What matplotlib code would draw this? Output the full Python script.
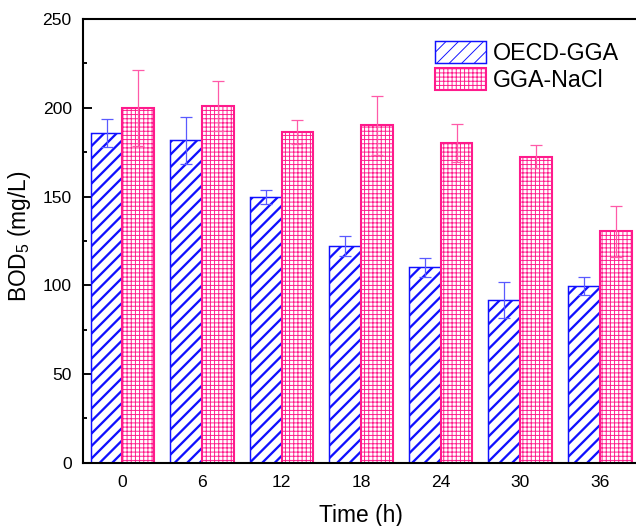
import matplotlib
matplotlib.use("Agg")
import matplotlib.pyplot as plt
import numpy as np

# ---- data ----
time_h = ['0', '6', '12', '18', '24', '30', '36']
oecd_gga = [185.6, 181.6, 149.5, 122.1, 110.1, 91.7, 99.7]
oecd_err = [7.8, 13.0, 4.0, 5.6, 5.5, 10.3, 5.0]
gga_nacl = [199.7, 201.0, 186.5, 190.1, 180.3, 172.4, 130.4]
nacl_err = [21.5, 14.0, 6.7, 16.7, 10.8, 6.6, 14.4]

plt.rcParams['font.family'] = ['Liberation Sans', 'DejaVu Sans']
plt.rcParams['mathtext.fontset'] = 'custom'
plt.rcParams['mathtext.rm'] = 'Liberation Sans'
plt.rcParams['mathtext.it'] = 'Liberation Sans:italic'

DPI = 150
fig = plt.figure(figsize=(636 / DPI, 526 / DPI), dpi=DPI)
ax = fig.add_axes([0.130, 0.1203, 0.8755, 0.8435])

x = np.arange(len(time_h))
w = 0.4

blue = '#1010FF'
pink = '#FF1A8C'

# hatch spacing: '////' -> ~12 px diagonal spacing at 150 dpi
plt.rcParams['hatch.linewidth'] = 1.1
b1 = ax.bar(x - w / 2, oecd_gga, w, facecolor='white', edgecolor=blue,
            hatch='////', linewidth=0.7, label='OECD-GGA', zorder=2)
plt.rcParams['hatch.linewidth'] = 0.45
b2 = ax.bar(x + w / 2, gga_nacl, w, facecolor='white', edgecolor=pink,
            hatch='++++++', linewidth=1.0, label='GGA-NaCl', zorder=2)

ax.errorbar(x - w / 2, oecd_gga, yerr=oecd_err, fmt='none', ecolor='#5a5aff',
            elinewidth=0.6, capsize=2.9, capthick=0.6, zorder=3)
ax.errorbar(x + w / 2, gga_nacl, yerr=nacl_err, fmt='none', ecolor='#ff5aa8',
            elinewidth=0.6, capsize=2.9, capthick=0.6, zorder=3)

ax.set_xlim(-0.5, 6.5)
ax.set_ylim(0, 250)
ax.set_xticks(x)
ax.set_xticklabels(time_h)
ax.set_yticks([0, 50, 100, 150, 200, 250])
ax.set_yticks(np.arange(25, 250, 50), minor=True)

ax.tick_params(axis='y', which='major', direction='in', length=4.3, width=0.9,
               labelsize=8.4, pad=5.3)
ax.tick_params(axis='y', which='minor', direction='in', length=2.0, width=0.9)
ax.tick_params(axis='x', which='major', length=0, labelsize=8.4, pad=6.0)

for s in ax.spines.values():
    s.set_linewidth(1.0)

ax.set_xlabel('Time (h)', fontsize=10.9)
ax.xaxis.set_label_coords(0.5, -0.093)
ax.set_ylabel('BOD$_5$ (mg/L)', fontsize=10.9)
ax.yaxis.set_label_coords(-0.089, 0.51)

fig.legend(handles=[b1, b2], loc='upper left',
           bbox_to_anchor=(435 / 636, 1 - 41 / 526), frameon=False,
           fontsize=11.2, borderpad=0, borderaxespad=0, handlelength=2.2,
           handleheight=1.1, labelspacing=0.12, handletextpad=0.28)

fig.savefig('out.png', dpi=DPI)
